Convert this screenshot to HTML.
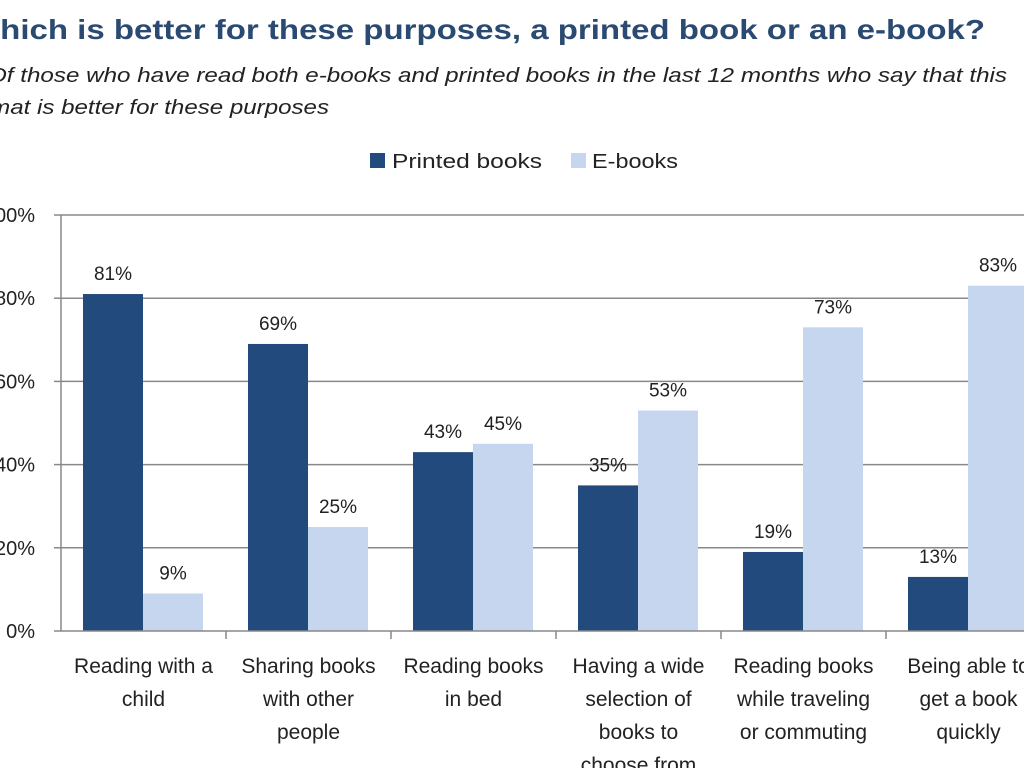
<!DOCTYPE html>
<html><head><meta charset="utf-8"><style>
body{margin:0;width:1024px;height:768px;overflow:hidden;background:#fff;font-family:"Liberation Sans",sans-serif;}
svg{display:block}
</style></head><body>
<svg id="chart" width="1024" height="768">
<text x="-31" y="39" font-size="28" font-weight="bold" fill="#2b4a72" textLength="1016" lengthAdjust="spacingAndGlyphs">Which is better for these purposes, a printed book or an e-book?</text>
<text x="-12" y="82" font-size="20" font-style="italic" fill="#222" textLength="1019" lengthAdjust="spacingAndGlyphs">Of those who have read both e-books and printed books in the last 12 months who say that this</text>
<text x="-38" y="114" font-size="20" font-style="italic" fill="#222" textLength="367" lengthAdjust="spacingAndGlyphs">format is better for these purposes</text>
<g>
<rect x="370" y="153" width="15" height="15" fill="#234a7c"/>
<text x="392" y="168" font-size="20" fill="#222" textLength="150" lengthAdjust="spacingAndGlyphs">Printed books</text>
<rect x="571" y="153" width="15" height="15" fill="#c5d6ee"/>
<text x="592" y="168" font-size="20" fill="#222" textLength="86" lengthAdjust="spacingAndGlyphs">E-books</text>
</g>
<g id="grid"></g><g id="bars"></g><g id="axes"></g><g id="labels"></g>
</svg>
<script>
const categories=[["Reading with a","child"],["Sharing books","with other","people"],["Reading books","in bed"],["Having a wide","selection of","books to","choose from"],["Reading books","while traveling","or commuting"],["Being able to","get a book","quickly"]];
const printed=[81,69,43,35,19,13];
const ebooks=[9,25,45,53,73,83];
const yTicks=[0,20,40,60,80,100];
const NS="http://www.w3.org/2000/svg";
const x0=61,y0=631,pxPer=4.16,groupW=165,barW=60,barOff=22;
const y=v=>y0-v*pxPer;
function mk(tag,attrs,parent,text){const e=document.createElementNS(NS,tag);for(const k in attrs)e.setAttribute(k,attrs[k]);if(text!==undefined)e.textContent=text;document.getElementById(parent).appendChild(e);return e;}
yTicks.forEach(t=>{
 if(t>0){const g=mk("line",{x1:x0,x2:1024,y1:y(t),y2:y(t),stroke:"#888","stroke-width":1.5},"grid");
 
 }
 const tl=mk("text",{x:35,y:y(t)+7,"font-size":20,"text-anchor":"end",fill:"#222"},"axes",t+"%");
 
 
 const tk=mk("line",{x1:x0-7,x2:x0,y1:y(t),y2:y(t),stroke:"#888","stroke-width":1.5},"axes");
 
 
});
const ya=mk("line",{x1:x0,x2:x0,y1:y(100),y2:y0,stroke:"#888","stroke-width":1.5},"axes");


const xa=mk("line",{x1:x0,x2:1024,y1:y0,y2:y0,stroke:"#888","stroke-width":1.5},"axes");


categories.forEach((c,i)=>{
 const gx=x0+i*groupW;
 const tk=mk("line",{x1:gx+groupW,x2:gx+groupW,y1:y0,y2:y0+8,stroke:"#888","stroke-width":1.5},"axes");
 
 
 [[printed[i],"#234a7c","printed",0],[ebooks[i],"#c5d6ee","ebook",barW]].forEach(([v,col,nm,off])=>{
  const bx=gx+barOff+off;
  const r=mk("rect",{x:bx,y:y(v),width:barW,height:v*pxPer,fill:col},"bars");
  
  
  const t=mk("text",{x:bx+barW/2,y:y(v)-14,"font-size":19,"text-anchor":"middle",fill:"#222"},"labels",v+"%");
  
  
 });
 c.forEach((ln,j)=>{
  const t=mk("text",{x:gx+groupW/2,y:673+j*33,"font-size":21,"text-anchor":"middle",fill:"#222"},"labels",ln);
  
  
 });
});
</script>
</body></html>
